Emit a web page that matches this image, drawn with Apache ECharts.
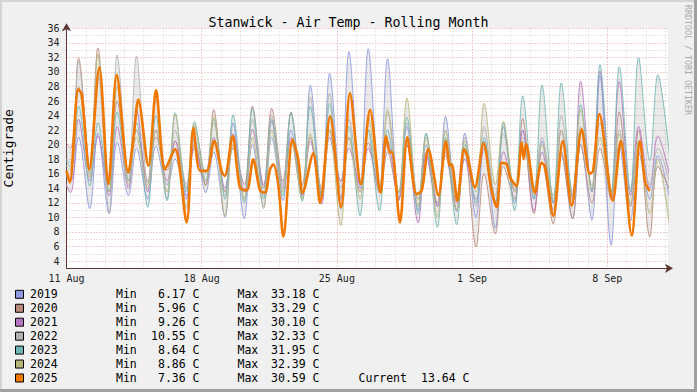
<!DOCTYPE html>
<html>
<head>
<meta charset="utf-8">
<script src="https://cdn.jsdelivr.net/npm/echarts@6.0.0/dist/echarts.min.js"></script>
<style>
html, body { margin: 0; padding: 0; background: #f0f0f0; }
#chart { width: 697px; height: 392px; }
</style>
</head>
<body>
<div id="chart"></div>
<script>
// x positions are days counted from 11 Aug 00:00
const tickLabels = ['11 Aug', '18 Aug', '25 Aug', '1 Sep', '8 Sep'];
const years = ['2019', '2020', '2021', '2022', '2023', '2024', '2025'];
const yearColors = ['#8c9ae0', '#b8887a', '#b474c0', '#b2b2b2', '#6fb8b5', '#b7b77a', '#f07800'];

// afternoon highs (~15:00), 10 Aug .. 10 Sep
const hi2019 = [17, 21, 21.6, 20.3, 19.5, 19.8, 18, 21, 19, 23, 20, 21, 22, 28.2, 29.8, 32.8, 33.18, 31.8, 22.5, 20, 23.9, 21.6, 20.5, 22.5, 22, 20.5, 18.5, 20, 29.5, 20, 19, 18.5];
const hi2020 = [22, 31.9, 33.29, 26, 22, 21, 20.5, 20, 24.8, 19.5, 25.3, 25, 24.4, 21, 22, 21, 20.3, 19, 20, 19, 18.5, 19, 16, 17, 23.6, 17.5, 19, 20, 19.5, 24.5, 22, 17];
const hi2021 = [17, 23.5, 21.2, 22.5, 24.8, 22, 20.5, 19.5, 21, 21.5, 22.1, 23.2, 21, 20.5, 21, 19.5, 19.5, 20.5, 20, 18.5, 19, 18, 19.5, 19, 22, 19, 22, 28.7, 30.1, 28.7, 22.5, 21.2];
const hi2022 = [19, 31.5, 30, 32.33, 32.2, 26.2, 22, 22.5, 23, 21, 23.5, 24, 24.5, 26.5, 27, 23.5, 22, 24.5, 23, 21.5, 22, 21, 22.5, 21.5, 21, 21, 24, 22.5, 23, 22, 20.5, 19.5];
const hi2023 = [19.5, 25.3, 23, 24.5, 23, 24, 24.4, 23.2, 23.5, 24.1, 25, 23.5, 24.4, 25.3, 25.7, 22.5, 22, 22, 23.8, 21.6, 21, 20, 21, 23, 26.7, 28.2, 28.5, 25.5, 31, 30.7, 31.95, 29.6];
const hi2024 = [18, 28, 32.39, 28, 21, 22, 24.2, 22.8, 23.8, 20, 21, 22, 20.5, 21.5, 22, 21, 23.8, 24.8, 26.4, 21, 22, 20.5, 25.7, 23.2, 20.5, 20, 22, 24.8, 21, 21.5, 20.5, 18];

// early morning lows (~05:00), 11 Aug .. 11 Sep
const lo2019 = [15, 11.2, 10.5, 13, 12.5, 14.5, 13, 13.4, 10, 9.8, 11.5, 12.3, 13, 12.5, 12.5, 14, 13.5, 12.3, 11, 11.5, 10.8, 10, 8.5, 12, 12.5, 11, 9.8, 9.6, 6.17, 9.5, 12.5, 13];
const lo2020 = [19.5, 17, 14.5, 16, 15, 16.5, 14, 14.5, 13.5, 14.5, 14, 15, 14.5, 14, 15, 13.5, 13.4, 12.5, 12.5, 12, 11, 5.96, 7.7, 12.5, 10.5, 9.1, 9.8, 12, 12.5, 11.5, 7.3, 14];
const lo2021 = [13.4, 15, 13, 14, 13.5, 15, 12.5, 14.5, 14, 13.5, 14.5, 14, 13, 11.8, 15, 14.5, 14, 12.5, 9.26, 11.5, 12, 12.5, 12, 13.5, 10.8, 12, 12.5, 13.5, 12.5, 13, 14, 16];
const lo2022 = [17.5, 16, 10.55, 15, 14.5, 12.5, 14.5, 16, 13, 12.5, 13, 14.5, 12.5, 13.5, 14, 15, 13.5, 12.8, 12.5, 12, 12.8, 11.5, 13, 14, 14, 13, 13.5, 14.5, 13.5, 14, 14.5, 15];
const lo2023 = [17, 14.3, 13.5, 15, 11.4, 12.3, 13.5, 15, 12.5, 12, 12.5, 13, 12.2, 13, 11.2, 10.2, 10.9, 13.4, 10.5, 8.64, 9, 12, 12, 10.9, 12.5, 12, 13, 13.5, 13.5, 13.5, 17.8, 19];
const lo2024 = [16.5, 15.5, 13.5, 14.5, 14, 13.5, 11.2, 14.3, 10.2, 12.5, 11.2, 13.5, 12.5, 12.5, 8.86, 12.5, 14.1, 13.5, 11.5, 10, 11, 13.5, 14.5, 13.5, 13, 12.5, 13, 14, 13, 12, 10.5, 9.2];

// 2025 turning points
const t2025 = [0, 0.17, 0.61, 0.79, 1.18, 1.70, 2.17, 2.60, 3.20, 3.46, 3.72, 4.24, 4.64, 5.10, 5.62, 6.22, 6.57, 6.91, 7.26, 7.64,
  8.05, 8.2, 8.6, 8.98, 9.33, 9.67, 10.02, 10.28, 10.54, 10.71, 10.97, 11.23, 11.71, 12.0, 12.23, 12.78, 13.13, 13.65, 14.22, 14.68,
  15.25, 15.72, 16.27, 16.55, 16.75, 16.85, 17.27, 17.65, 18.13, 18.4, 18.74, 19.26, 19.65, 19.86, 19.95, 20.24, 20.59, 20.75, 21.15, 21.6,
  22.0, 22.28, 22.54, 22.8, 22.97, 23.3, 23.57, 23.68, 23.8, 24.26, 24.6, 24.78, 25.21, 25.7, 26.16, 26.68, 27.1, 27.27, 27.6, 28.29,
  28.7, 29.27, 29.7, 29.97, 30.2];
const v2025 = [16.4, 14.8, 27.6, 26.9, 16.6, 30.59, 14.6, 29.6, 16.2, 20.7, 26.2, 17.1, 27.5, 16.6, 19.4, 9.3, 22.3, 16.4, 16.4, 20.5,
  16.2, 15.7, 21.2, 14.1, 13.7, 18.0, 13.7, 13.4, 16.6, 17.3, 14.4, 7.36, 20.7, 18.0, 13.4, 18.8, 12.0, 23.9, 11.4, 27.1,
  14.6, 24.8, 13.4, 21.2, 18.9, 19.0, 9.3, 21.0, 13.2, 13.7, 19.4, 13.0, 20.5, 17.1, 17.3, 12.3, 19.4, 18.5, 14.1, 20.2,
  13.9, 11.4, 17.5, 17.3, 15.5, 14.3, 20.3, 18.0, 20.1, 13.4, 17.5, 17.0, 10.2, 20.5, 11.6, 22.1, 16.0, 16.4, 24.2, 12.3,
  20.5, 7.5, 20.5, 14.8, 13.64];

const legendMin = ['6.17', '5.96', '9.26', '10.55', '8.64', '8.86', '7.36'];
const legendMax = ['33.18', '33.29', '30.10', '32.33', '31.95', '32.39', '30.59'];
const current2025 = '13.64';

const FONT = '"DejaVu Sans Mono", monospace';
const HI_T = 15 / 24, LO_T = 5 / 24;

function histPoints(hi, lo) {
    const pts = [];
    for (let i = 0; i < hi.length; i++) {
        pts.push([i - 1 + HI_T, hi[i]]);
        if (i < lo.length) pts.push([i + LO_T, lo[i]]);
    }
    return pts;
}

const hist = [[hi2019, lo2019], [hi2020, lo2020], [hi2021, lo2021], [hi2022, lo2022], [hi2023, lo2023], [hi2024, lo2024]];
const histData = hist.map(([h, l]) => histPoints(h, l));

// grey band between the lowest and highest of the previous years
const bandLow = histData[0].map((p, k) => [p[0], Math.min(...histData.map(d => d[k][1]))]);
const bandHigh = histData[0].map((p, k) => [p[0], Math.max(...histData.map(d => d[k][1]))]);

const data2025 = t2025.map((t, i) => [t, v2025[i]]);

const chart = echarts.init(document.getElementById('chart'), null, {renderer: 'svg'});

let series = [{
    type: 'custom', silent: true, z: 1, clip: true,
    data: [0],
    renderItem: (params, api) => {
        const up = bandHigh.map(p => api.coord(p));
        const dn = bandLow.map(p => api.coord(p)).reverse();
        return {
            type: 'polygon',
            shape: {points: up.concat(dn), smooth: 0.3},
            style: {fill: 'rgba(150,150,150,0.2)', stroke: null}
        };
    }
}];
histData.forEach((d, i) => {
    series.push({
        type: 'line', name: years[i], data: d, smooth: 0.35, showSymbol: false, silent: true, z: 2,
        lineStyle: {color: yearColors[i], width: 1, opacity: 0.85}
    });
});
series.push({
    type: 'line', name: '2025', data: data2025, smooth: 0.3, showSymbol: false, silent: true, z: 3,
    lineStyle: {color: yearColors[6], width: 2.6}
});

// legend rows and frame
const graphics = [
    {type: 'rect', shape: {x: 0, y: 0, width: 697, height: 2}, style: {fill: '#d4d4d4'}, silent: true},
    {type: 'rect', shape: {x: 0, y: 0, width: 2, height: 392}, style: {fill: '#d4d4d4'}, silent: true},
    {type: 'rect', shape: {x: 694, y: 0, width: 3, height: 392}, style: {fill: '#a0a0a0'}, silent: true},
    {type: 'rect', shape: {x: 0, y: 389, width: 697, height: 3}, style: {fill: '#a0a0a0'}, silent: true},
    {
        type: 'text', x: 687.5, y: 60, rotation: -Math.PI / 2, silent: true,
        style: {text: 'RRDTOOL / TOBI OETIKER', font: '8.3px ' + FONT, fill: '#ababab', align: 'center', verticalAlign: 'middle'}
    }
];
function txt(s, x, y, align) {
    return {type: 'text', x: x, y: y, silent: true,
        style: {text: s, font: '11.5px ' + FONT, fill: '#000', align: align, verticalAlign: 'middle'}};
}
years.forEach((yr, i) => {
    const cy = 294.3 + i * 13.95;
    graphics.push({type: 'rect', shape: {x: 15.5, y: cy - 4, width: 8, height: 8},
        style: {fill: yearColors[i], stroke: '#000', lineWidth: 1}, silent: true});
    graphics.push(txt(yr, 30, cy, 'left'));
    graphics.push(txt('Min', 116, cy, 'left'));
    graphics.push(txt(legendMin[i] + ' C', 199.5, cy, 'right'));
    graphics.push(txt('Max', 237.5, cy, 'left'));
    graphics.push(txt(legendMax[i] + ' C', 319.5, cy, 'right'));
    if (yr === '2025') {
        graphics.push(txt('Current', 358.5, cy, 'left'));
        graphics.push(txt(current2025 + ' C', 469.5, cy, 'right'));
    }
});

const axisColor = '#5c3434';
chart.setOption({
    animation: false,
    backgroundColor: '#f0f0f0',
    title: {
        text: 'Stanwick - Air Temp - Rolling Month',
        left: 'center', top: 11,
        textStyle: {fontFamily: FONT, fontSize: 13.3, fontWeight: 'normal', color: '#000'}
    },
    grid: {
        left: 66.5, right: 29, top: 28.3, bottom: 123.7,
        show: true, backgroundColor: '#ffffff', borderWidth: 0,
        outerBoundsMode: 'none'
    },
    xAxis: {
        type: 'value', min: 0, max: 31.15, interval: 1,
        axisLine: {
            show: true, onZero: false,
            lineStyle: {color: axisColor, width: 1},
            symbol: ['none', 'arrow'], symbolSize: [7, 8], symbolOffset: [0, 5]
        },
        axisTick: {show: false},
        axisLabel: {
            formatter: v => (v % 7 === 0 ? (tickLabels[v / 7] || '') : ''),
            fontFamily: FONT, fontSize: 10, color: '#222', margin: 5, showMaxLabel: false
        },
        splitLine: {
            show: true, showMaxLine: false,
            lineStyle: {color: ['#e3a0a0', '#d2d2d2', '#d2d2d2', '#d2d2d2', '#d2d2d2', '#d2d2d2', '#d2d2d2'], type: [1, 2], width: 1}
        }
    },
    yAxis: {
        type: 'value', min: 3, max: 36, interval: 1,
        name: 'Centigrade', nameLocation: 'middle', nameGap: 52, nameRotate: 90,
        nameTextStyle: {fontFamily: FONT, fontSize: 13, color: '#000'},
        axisLine: {
            show: true, onZero: false,
            lineStyle: {color: axisColor, width: 1},
            symbol: ['none', 'arrow'], symbolSize: [7, 8], symbolOffset: [0, 5]
        },
        axisTick: {show: false},
        axisLabel: {
            formatter: v => (v % 2 === 0 ? String(v) : ''),
            fontFamily: FONT, fontSize: 10, color: '#222', margin: 7
        },
        splitLine: {
            show: true,
            lineStyle: {color: ['#dcc4c4', '#e3a0a0'], type: [1, 2], width: 1}
        }
    },
    graphic: {elements: graphics},
    series: series
});
</script>
</body>
</html>
